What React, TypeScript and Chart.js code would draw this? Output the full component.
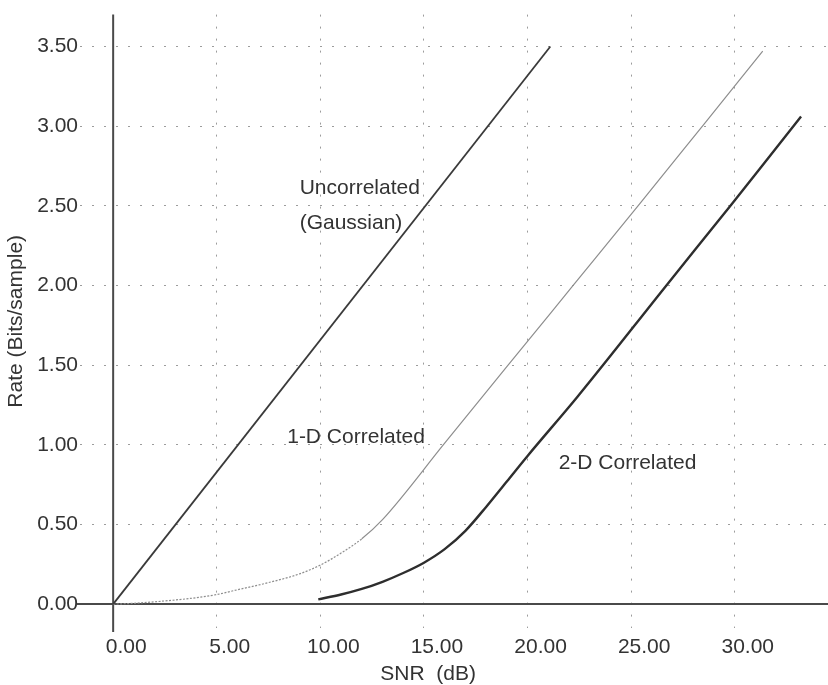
import React, { useEffect, useRef } from "react";
import { Chart, registerables } from "chart.js";

Chart.register(...registerables);

// ---- data ----
const xTicks = [0, 5, 10, 15, 20, 25, 30];
const xTickLabels = ["0.00", "5.00", "10.00", "15.00", "20.00", "25.00", "30.00"];
const yTicks = [0, 0.5, 1, 1.5, 2, 2.5, 3, 3.5];
const yTickLabels = ["0.00", "0.50", "1.00", "1.50", "2.00", "2.50", "3.00", "3.50"];

const gaussianSnr = [0, 21.1];
const gaussianRate = [0, 3.5];

const oneDSnr = [0, 1, 2.5, 4, 5, 6, 7.5, 9, 10, 11, 12, 13, 16, 19, 22.2, 25.4, 28.5, 31.35];
const oneDRate = [0, 0.005, 0.02, 0.04, 0.06, 0.09, 0.135, 0.19, 0.245, 0.32, 0.41, 0.53, 1.01, 1.49, 2.0, 2.51, 3.01, 3.47];

const twoDSnr = [9.9, 11, 12, 13, 14, 15, 16, 17, 18, 19, 20, 22.4, 26.7, 29.85, 31.8, 33.2];
const twoDRate = [0.03, 0.06, 0.095, 0.14, 0.195, 0.26, 0.345, 0.46, 0.61, 0.77, 0.93, 1.3, 2.0, 2.51, 2.83, 3.06];

const labelTexts = ["Uncorrelated", "(Gaussian)", "1-D Correlated", "2-D Correlated"];
const labelSnr = [9.0, 9.0, 8.4, 21.5];
const labelRate = [2.61, 2.39, 1.05, 0.885];

const xTitle = "SNR  (dB)";
const yTitle = "Rate (Bits/sample)";

const FONT_FAMILY = '"Liberation Sans", Arial, Helvetica, sans-serif';
const FONT_SIZE = 21;
const TEXT_COLOR = "#333333";

const toPoints = (xs: number[], ys: number[]) => xs.map((x, i) => ({ x, y: ys[i] }));

const overlayPlugin = {
  id: "overlay",
  beforeDatasetsDraw(chart: any) {
    const { ctx, chartArea, scales } = chart;
    const xs = scales.x;
    const ys = scales.y;
    const x0 = xs.getPixelForValue(0);
    const y0 = ys.getPixelForValue(0);
    ctx.save();
    ctx.strokeStyle = "#4a4a4a";
    ctx.lineWidth = 2;
    ctx.beginPath();
    ctx.moveTo(chartArea.left - 3, y0);
    ctx.lineTo(chartArea.right, y0);
    ctx.stroke();
    ctx.beginPath();
    ctx.moveTo(x0, chartArea.top);
    ctx.lineTo(x0, chartArea.bottom + 4);
    ctx.stroke();
    ctx.restore();
  },
  afterDatasetsDraw(chart: any) {
    const { ctx, scales } = chart;
    const xs = scales.x;
    const ys = scales.y;
    ctx.save();
    ctx.fillStyle = TEXT_COLOR;
    ctx.font = `${FONT_SIZE}px ${FONT_FAMILY}`;
    ctx.textAlign = "left";
    ctx.textBaseline = "middle";
    labelTexts.forEach((t, i) => {
      ctx.fillText(t, xs.getPixelForValue(labelSnr[i]), ys.getPixelForValue(labelRate[i]));
    });
    ctx.textAlign = "center";
    ctx.fillText(xTitle, xs.getPixelForValue(15.2), ys.getPixelForValue(-0.44));
    ctx.restore();
  },
};

export default function App() {
  const canvasRef = useRef<HTMLCanvasElement | null>(null);

  useEffect(() => {
    if (!canvasRef.current) return;
    const gridColor = (c: any) => (c.tick && c.tick.value === 0 ? "rgba(0,0,0,0)" : "#9c9c9c");
    const chart = new Chart(canvasRef.current, {
      type: "line",
      data: {
        datasets: [
          {
            label: "Uncorrelated (Gaussian)",
            data: toPoints(gaussianSnr, gaussianRate),
            borderColor: "#3a3a3a",
            borderWidth: 1.8,
            pointRadius: 0,
            fill: false,
          },
          {
            label: "1-D Correlated",
            data: toPoints(oneDSnr, oneDRate),
            borderColor: "#8e8e8e",
            borderWidth: 1.2,
            pointRadius: 0,
            fill: false,
            cubicInterpolationMode: "monotone",
            segment: {
              borderDash: (c: any) => (c.p1.parsed.x <= 12.01 ? [2, 1.5] : undefined),
            },
          },
          {
            label: "2-D Correlated",
            data: toPoints(twoDSnr, twoDRate),
            borderColor: "#2e2e2e",
            borderWidth: 2.4,
            pointRadius: 0,
            fill: false,
            cubicInterpolationMode: "monotone",
          },
        ],
      },
      options: {
        responsive: false,
        animation: false,
        layout: { padding: { left: 0, right: 0, top: 10, bottom: 0 } },
        plugins: {
          legend: { display: false },
          tooltip: { enabled: false },
        },
        scales: {
          x: {
            type: "linear",
            min: -1.6,
            max: 34.5,
            afterBuildTicks: (s: any) => {
              s.ticks = xTicks.map((v) => ({ value: v }));
            },
            afterFit: (s: any) => {
              s.height = 57;
            },
            ticks: {
              callback: (_v: any, i: number) => xTickLabels[i],
              font: { family: FONT_FAMILY, size: FONT_SIZE },
              color: TEXT_COLOR,
              padding: 7,
              labelOffset: 13,
              maxRotation: 0,
              autoSkip: false,
            },
            grid: { color: gridColor, drawTicks: false, lineWidth: 1 },
            border: { display: false, dash: [2, 10] },
          },
          y: {
            type: "linear",
            min: -0.15,
            max: 3.7,
            afterBuildTicks: (s: any) => {
              s.ticks = yTicks.map((v) => ({ value: v }));
            },
            afterFit: (s: any) => {
              s.width = 80;
            },
            ticks: {
              callback: (_v: any, i: number) => yTickLabels[i],
              font: { family: FONT_FAMILY, size: FONT_SIZE },
              color: TEXT_COLOR,
              padding: 2,
              autoSkip: false,
            },
            grid: { color: gridColor, drawTicks: false, lineWidth: 1 },
            border: { display: false, dash: [2, 10] },
            title: {
              display: true,
              text: yTitle,
              font: { family: FONT_FAMILY, size: FONT_SIZE },
              color: TEXT_COLOR,
              padding: { top: 4, bottom: 0 },
            },
          },
        },
      },
      plugins: [overlayPlugin],
    } as any);
    return () => chart.destroy();
  }, []);

  return (
    <div style={{ position: "absolute", left: 0, top: 0, width: 828, height: 685, background: "#fff" }}>
      <canvas ref={canvasRef} width={828} height={685} style={{ display: "block" }} />
    </div>
  );
}
